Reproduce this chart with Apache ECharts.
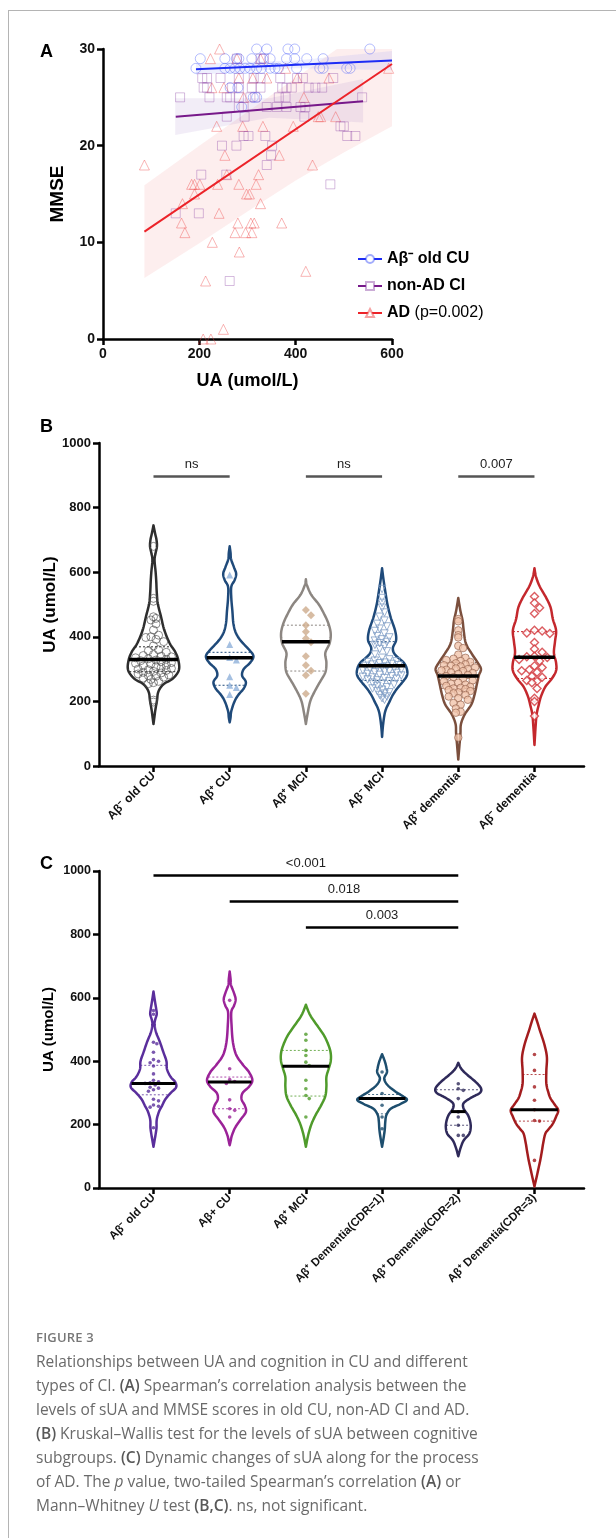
<!DOCTYPE html>
<html>
<head>
<meta charset="UTF-8">
<title>Figure 3</title>
<style>
  html, body { margin: 0; padding: 0; background: #fff; }
  #page { position: relative; width: 616px; height: 1538px; overflow: hidden; }
  #container { position: absolute; left: 0; top: 0; width: 616px; height: 1538px; }
  #edgeTop { position: absolute; left: 8px; top: 10px; width: 608px; height: 1px; background: #b4b4b4; }
  #edgeLeft { position: absolute; left: 8px; top: 10px; width: 1px; height: 1528px; background: #b4b4b4; }
  #caption { position: absolute; left: 36px; top: 1325px; width: 578px; font-family: "Open Sans", "Noto Sans", sans-serif; color: #6a6a6a; font-size: 15.5px; line-height: 24px; }
  #caption .fig { font-size: 13px; font-weight: 600; color: #777; letter-spacing: 0.2px; }
  #caption b { font-weight: 600; color: #585858; }
</style>
</head>
<body>
<div id="page">
  <div id="container"></div>
  <div id="edgeTop"></div>
  <div id="edgeLeft"></div>
  <div id="caption">
    <div class="fig">FIGURE 3</div>
    Relationships between UA and cognition in CU and different<br>
    types of CI. <b>(A)</b> Spearman’s correlation analysis between the<br>
    levels of sUA and MMSE scores in old CU, non-AD CI and AD.<br>
    <b>(B)</b> Kruskal–Wallis test for the levels of sUA between cognitive<br>
    subgroups. <b>(C)</b> Dynamic changes of sUA along for the process<br>
    of AD. The <i>p</i> value, two-tailed Spearman’s correlation <b>(A)</b> or<br>
    Mann–Whitney <i>U</i> test <b>(B,C)</b>. ns, not significant.
  </div>
</div>
<script src="https://cdn.jsdelivr.net/npm/echarts@6/dist/echarts.min.js"></script>
<script>
// ---------- panel A : UA vs MMSE ----------
var cuUA = [319, 340, 384, 398, 554, 202, 253, 277, 282, 309, 332, 347, 381, 398, 423, 457,
  193, 253, 264, 274, 284, 295, 305, 319, 329, 347, 357, 364, 402, 450, 457, 506, 513, 264, 280, 312, 319, 288];
var cuMMSE = [30, 30, 30, 30, 30, 29, 29, 29, 29, 29, 29, 29, 29, 29, 29, 29,
  28, 28, 28, 28, 28, 28, 28, 28, 28, 28, 28, 28, 28, 28, 28, 28, 28, 26, 26, 25, 25, 24];

var ciUA = [160, 151, 199, 204, 263, 472, 247, 277, 256, 292, 302, 337, 351, 349, 340, 257, 294, 418,
  282, 292, 340, 361, 381, 410, 420, 221, 257, 264, 282, 306, 316, 365, 379, 538,
  209, 216, 268, 282, 309, 327, 372, 381, 392, 427, 441, 455, 206, 216, 244, 282, 313, 327, 368, 403, 415, 478,
  278, 327, 334, 493, 500, 507, 524];
var ciMMSE = [25, 13, 13, 17, 6, 16, 20, 20, 17, 21, 21, 21, 20, 19, 18, 23, 23, 23,
  24, 24, 24, 24, 24, 24, 24, 25, 25, 25, 25, 25, 25, 25, 25, 25,
  26, 26, 26, 26, 26, 26, 26, 26, 26, 26, 26, 26, 27, 27, 27, 27, 27, 27, 27, 27, 27, 27,
  29, 29, 29, 22, 22, 21, 21];

var adUA = [86, 242, 223, 278, 327, 379, 593, 282, 311, 340, 403, 469, 226, 251, 292, 417, 236, 290, 332, 395,
  483, 452, 447, 253, 366, 435, 184, 190, 201, 238, 282, 318, 190, 298, 304, 165, 327, 257, 323, 241,
  163, 280, 307, 314, 371, 170, 274, 296, 309, 227, 283, 421, 213, 250, 208, 224];
var adMMSE = [18, 30, 29, 29, 29, 28, 28, 27, 27, 27, 27, 27, 26, 26, 25, 25, 22, 22, 22, 22,
  23, 23, 23, 19, 19, 18, 16, 16, 16, 16, 16, 16, 15, 15, 15, 14, 14, 17, 17, 13,
  12, 12, 12, 12, 12, 11, 11, 11, 11, 10, 9, 7, 6, 1, 0, 0];

// fitted lines (end points) and their shaded bands
var fitCU = [[193, 27.9], [600, 28.8]];
var fitCI = [[151, 23.0], [540, 24.6]];
var fitAD = [[86, 11.1], [600, 28.45]];
var bandCUx = [193, 400, 600], bandCUlo = [27.3, 28.0, 27.8], bandCUhi = [28.5, 28.8, 29.8];
var bandCIx = [150, 345, 540], bandCIlo = [21.1, 22.9, 22.4], bandCIhi = [24.9, 24.9, 26.9];
var bandADx = [86, 200, 300, 400, 500, 600];
var bandADlo = [6.3, 9.9, 13.2, 16.4, 19.3, 22.0];
var bandADhi = [15.9, 20.0, 23.5, 27.0, 30.5, 34.0];

// ---------- panel B : UA by subgroup ----------
var catB = ['Aβ⁻ old CU', 'Aβ⁺ CU', 'Aβ⁺ MCI', 'Aβ⁻ MCI', 'Aβ⁺ dementia', 'Aβ⁻ dementia'];
var ptsB1 = [680, 519, 510, 462, 457, 452, 440, 421, 405, 400, 398, 392, 385, 372, 360, 357, 352, 345, 342, 340,
  338, 335, 332, 330, 328, 326, 323, 320, 318, 316, 312, 310, 308, 305, 302, 300, 298, 296, 293, 290,
  288, 285, 282, 280, 278, 275, 272, 268, 262, 258, 255, 204, 198];
var ptsB2 = [591, 376, 336, 328, 276, 250, 243, 221];
var ptsB3 = [483, 467, 436, 416, 395, 383, 340, 312, 295, 281, 224];
var ptsB4 = [548, 520, 505, 490, 475, 462, 450, 440, 432, 425, 418, 410, 402, 398, 392, 388, 384, 380, 375, 370,
  362, 355, 345, 335, 330, 326, 324, 322, 320, 318, 316, 314, 312, 310, 308, 306, 304, 302, 300, 298,
  296, 294, 292, 290, 288, 285, 282, 280, 278, 276, 274, 272, 270, 268, 265, 262, 258, 255, 252, 248,
  244, 240, 236, 232, 228, 224, 220, 215, 210, 205];
var ptsB5 = [455, 448, 420, 405, 398, 372, 365, 345, 335, 332, 328, 325, 322, 318, 315, 312, 310, 308, 305, 302,
  300, 298, 296, 294, 290, 288, 285, 282, 278, 275, 270, 265, 262, 258, 255, 252, 248, 245, 242, 240,
  238, 235, 232, 228, 225, 220, 215, 210, 205, 195, 190, 178, 168, 165, 88];
var ptsB6 = [525, 505, 490, 472, 420, 418, 412, 410, 382, 362, 352, 340, 338, 336, 330, 325, 310, 305, 298, 295,
  290, 278, 275, 265, 262, 258, 240, 210, 200, 155];
var medianB = [330, 335, 385, 310, 279, 337];
var quartB = [[292, 369], [250, 352], [294, 436], [265, 385], [240, 320], [271, 416]];
// violin outlines: [UA, half width]
var violinB1 = [[745, 0], [720, 1.5], [700, 2.8], [680, 3.2], [660, 2], [638, 1], [600, 2], [570, 2.6], [540, 3], [503, 4],
  [462, 7], [421, 10], [380, 15], [354, 20], [328, 23], [297, 23.5], [271, 18], [255, 10], [240, 6], [224, 4],
  [204, 3.3], [173, 1.7], [150, 0.8], [130, 0]];
var violinB2 = [[680, 0], [660, 0.8], [640, 1.3], [615, 4], [595, 6], [575, 4.5], [555, 1.5], [520, 1.5], [480, 2.5], [440, 3.5],
  [410, 6], [385, 11], [360, 18], [340, 22], [320, 19], [300, 13], [280, 11.5], [260, 15], [240, 13], [220, 8],
  [200, 4.5], [170, 1.5], [150, 0.8], [135, 0]];
var violinB3 = [[578, 0], [560, 1], [530, 5], [500, 12], [470, 17], [440, 21], [410, 23], [380, 22], [350, 18], [320, 19],
  [290, 18], [260, 13], [230, 8], [200, 4], [160, 1.5], [130, 0]];
var violinB4 = [[612, 0], [580, 1.2], [540, 3], [500, 5], [460, 8], [420, 12], [390, 13], [365, 10], [345, 12], [320, 20],
  [300, 23], [280, 23], [260, 19], [240, 14], [220, 10], [200, 7], [170, 3], [130, 1], [90, 0]];
var violinB5 = [[520, 0], [480, 2], [450, 4], [420, 5], [380, 7], [350, 12], [320, 18], [300, 21], [280, 19], [250, 17],
  [220, 15], [190, 12], [160, 6], [130, 2.5], [100, 2], [60, 1], [20, 0]];
var violinB6 = [[612, 0], [585, 1.5], [555, 5], [520, 11], [490, 15], [455, 17], [420, 20], [385, 19], [350, 18], [320, 20],
  [295, 20], [270, 16], [245, 10], [215, 6], [190, 4], [160, 2], [120, 1], [65, 0]];
var bracketsB = [[1, 2, 896, 'ns'], [3, 4, 896, 'ns'], [5, 6, 896, '0.007']];

// ---------- panel C : UA along the AD process ----------
var catC = ['Aβ⁻ old CU', 'Aβ+ CU', 'Aβ⁺ MCI', 'Aβ⁺ Dementia(CDR=1)', 'Aβ⁺ Dementia(CDR=2)', 'Aβ⁺ Dementia(CDR=3)'];
var ptsC1 = [560, 548, 460, 455, 428, 405, 400, 395, 385, 360, 340, 335, 332, 330, 325, 318, 315, 310, 305, 280,
  275, 262, 258, 255, 190];
var ptsC2 = [592, 376, 342, 336, 330, 278, 250, 245, 224];
var ptsC3 = [485, 466, 434, 418, 397, 386, 340, 313, 292, 282, 224];
var ptsC4 = [366, 298, 282, 261, 224, 187];
var ptsC5 = [329, 313, 308, 282, 240, 224, 198, 166, 166];
var ptsC6 = [421, 371, 319, 277, 247, 213, 211, 87];
var medianC = [330, 334, 384, 282, 241, 247];
var quartC = [[294, 387], [250, 350], [290, 434], [234, 295], [198, 310], [211, 358]];
var violinC1 = [[620, 0], [590, 1.3], [565, 2.5], [548, 3], [530, 1.5], [515, 1], [490, 2.5], [460, 6], [430, 9], [400, 12],
  [375, 12.5], [350, 16], [335, 20], [318, 21], [300, 16], [280, 11], [260, 8], [240, 5], [215, 3], [190, 2.8],
  [170, 2], [150, 1], [130, 0]];
var violinC2 = [[683, 0], [660, 0.8], [640, 1.3], [615, 4], [595, 5.5], [575, 4], [555, 1.5], [510, 1.8], [460, 3], [420, 6],
  [390, 12], [365, 18], [340, 21], [320, 18], [300, 12], [280, 11], [260, 14], [240, 15], [215, 10], [190, 5],
  [165, 2], [150, 1], [135, 0]];
var violinC3 = [[578, 0], [545, 4], [510, 11], [480, 17], [450, 21], [425, 23], [400, 23], [375, 21], [350, 19], [320, 19],
  [290, 18], [260, 14], [230, 9], [200, 5], [165, 2], [130, 0]];
var violinC4 = [[422, 0], [400, 2.5], [380, 4], [365, 4.5], [345, 2], [325, 5], [305, 12], [290, 19], [278, 23], [265, 17],
  [250, 8], [230, 4], [210, 3], [185, 2.5], [160, 1.5], [130, 0]];
var violinC5 = [[395, 0], [375, 3], [355, 9], [335, 16], [315, 21], [300, 20], [285, 12], [268, 5], [250, 5], [230, 9],
  [210, 11], [190, 11.5], [170, 10], [150, 5], [125, 2], [100, 0]];
var violinC6 = [[550, 0], [525, 2.5], [497, 5], [455, 9], [413, 11.5], [370, 11], [329, 11], [300, 13], [282, 15], [262, 19],
  [245, 22], [225, 20], [203, 17], [185, 13], [171, 10], [140, 8], [119, 7], [90, 5.5], [66, 4], [35, 2], [5, 0]];
var bracketsC = [[1, 5, 986, '<0.001'], [2, 5, 904, '0.018'], [3, 5, 822, '0.003']];

// ---------- styling ----------
var FONT = 'Liberation Sans';
var colB = ['#2e2e2e', '#1f4a7a', '#8c8681', '#1f4a7a', '#7b4f3d', '#c4282d'];
var colC = ['#5a2e9c', '#9b2298', '#4f9b2b', '#1d4e6e', '#2f2a5a', '#a31c1e'];
var PX_PER_CAT = 76.2;   // category spacing in px in both violin panels
var W_SCALE = 1.08;      // violin half width, px per unit of the outline arrays

var violinsB = [violinB1, violinB2, violinB3, violinB4, violinB5, violinB6];
var violinsC = [violinC1, violinC2, violinC3, violinC4, violinC5, violinC6];
var ptsB = [ptsB1, ptsB2, ptsB3, ptsB4, ptsB5, ptsB6];
var ptsC = [ptsC1, ptsC2, ptsC3, ptsC4, ptsC5, ptsC6];

function widthAt(prof, v) {
  for (var i = 0; i < prof.length - 1; i++) {
    var a = prof[i], b = prof[i + 1];
    if (v <= a[0] && v >= b[0]) {
      var t = (a[0] - v) / (a[0] - b[0]);
      return (a[1] + (b[1] - a[1]) * t) * W_SCALE;
    }
  }
  return 0;
}

// catmull-rom through the pixel outline points (one side of the violin)
function smoothSide(pts) {
  var out = [];
  for (var i = 0; i < pts.length - 1; i++) {
    var p0 = pts[Math.max(0, i - 1)], p1 = pts[i], p2 = pts[i + 1], p3 = pts[Math.min(pts.length - 1, i + 2)];
    for (var s = 0; s < 8; s++) {
      var t = s / 8, t2 = t * t, t3 = t2 * t;
      var f = function (a, b, c, d) {
        return 0.5 * (2 * b + (-a + c) * t + (2 * a - 5 * b + 4 * c - d) * t2 + (-a + 3 * b - 3 * c + d) * t3);
      };
      out.push([f(p0[0], p1[0], p2[0], p3[0]), f(p0[1], p1[1], p2[1], p3[1])]);
    }
  }
  out.push(pts[pts.length - 1]);
  return out;
}

// beeswarm kept inside the violin: horizontal offsets in px
function swarm(vals, prof, yScale, size, marker) {
  var placed = [], offs = [];
  vals.forEach(function (v) {
    var y = v * yScale;
    var maxOff = Math.max(0, widthAt(prof, v) - marker / 2 - 1);
    var best = 0, bestD = -1;
    for (var k = 0; k < 80; k++) {
      var o = (k % 2 ? 1 : -1) * Math.ceil(k / 2) * size * 0.4;
      if (Math.abs(o) > maxOff) { if (k > 1) break; else continue; }
      var dmin = Infinity;
      placed.forEach(function (p) {
        var dx = p[0] - o, dy = p[1] - y;
        dmin = Math.min(dmin, Math.sqrt(dx * dx + dy * dy));
      });
      if (dmin >= size) { best = o; bestD = dmin; break; }
      if (dmin > bestD) { bestD = dmin; best = o; }
    }
    placed.push([best, y]);
    offs.push(best);
  });
  return offs;
}

function swarmData(vals, center, prof, yScale, size, marker) {
  var offs = swarm(vals, prof, yScale, size, marker);
  return vals.map(function (v, i) { return [center + offs[i] / PX_PER_CAT, v]; });
}

function violinSeries(profiles, colors, axis) {
  return {
    type: 'custom', xAxisIndex: axis, yAxisIndex: axis, z: 2, silent: true,
    data: profiles.map(function (p, i) { return [i + 1]; }),
    renderItem: function (params, api) {
      var idx = api.value(0), prof = profiles[idx - 1];
      var c0 = api.coord([idx, prof[0][0]])[0];
      var side = prof.map(function (d) {
        return [d[1] * W_SCALE, api.coord([idx, d[0]])[1]];
      });
      var sm = smoothSide(side).map(function (p) { return [Math.max(0, p[0]), p[1]]; });
      var pts = sm.map(function (p) { return [c0 + p[0], p[1]]; });
      for (var i = sm.length - 2; i > 0; i--) pts.push([c0 - sm[i][0], sm[i][1]]);
      return {
        type: 'polygon',
        shape: { points: pts },
        style: { fill: 'rgba(255,255,255,0)', stroke: colors[idx - 1], lineWidth: 2.5, lineJoin: 'round' }
      };
    }
  };
}

function levelSeries(profiles, levels, axis, style, z) {
  return {
    type: 'custom', xAxisIndex: axis, yAxisIndex: axis, z: z, silent: true,
    data: levels.map(function (v, i) { return [i + 1, v]; }),
    renderItem: function (params, api) {
      var idx = api.value(0), v = api.value(1);
      var w = widthAt(profiles[idx - 1], v);
      var c = api.coord([idx, v]);
      return {
        type: 'line',
        shape: { x1: c[0] - w, y1: c[1], x2: c[0] + w, y2: c[1] },
        style: typeof style === 'function' ? style(idx) : style
      };
    }
  };
}

function bracketSeries(list, axis, color) {
  return {
    type: 'custom', xAxisIndex: axis, yAxisIndex: axis, z: 5, silent: true,
    data: list.map(function (b) { return [b[0], b[1], b[2]]; }),
    renderItem: function (params, api) {
      var b = list[params.dataIndex];
      var p1 = api.coord([api.value(0), api.value(2)]);
      var p2 = api.coord([api.value(1), api.value(2)]);
      return {
        type: 'group',
        children: [
          { type: 'line', shape: { x1: p1[0], y1: p1[1], x2: p2[0], y2: p2[1] },
            style: { stroke: color, lineWidth: 2.5 } },
          { type: 'text', x: (p1[0] + p2[0]) / 2, y: p1[1] - 6,
            style: { text: b[3], fontFamily: FONT, fontSize: 13, fill: '#222', align: 'center', verticalAlign: 'bottom' } }
        ]
      };
    }
  };
}

function bandSeries(xs, lo, hi, fill) {
  return {
    type: 'custom', xAxisIndex: 0, yAxisIndex: 0, z: 1, clip: true, silent: true,
    data: [[xs[0], lo[0]]],
    renderItem: function (params, api) {
      var pts = [];
      xs.forEach(function (x, i) { pts.push(api.coord([x, hi[i]])); });
      for (var i = xs.length - 1; i >= 0; i--) pts.push(api.coord([xs[i], lo[i]]));
      return { type: 'polygon', shape: { points: pts }, style: { fill: fill } };
    }
  };
}

function pairs(xs, ys) { return xs.map(function (x, i) { return [x, ys[i]]; }); }

var tickLabel = { fontFamily: FONT, fontWeight: 'bold', color: '#111', formatter: function (v) { return String(v); } };
var blackLine = { show: true, lineStyle: { color: '#000', width: 2.5 } };
var blackTick = { show: true, length: 6, lineStyle: { color: '#000', width: 2.5 } };

function catXAxis(idx, cats, fontSize) {
  return {
    gridIndex: idx, type: 'value', min: 0.285, max: 6.65,
    axisLine: blackLine, splitLine: { show: false },
    axisTick: { show: true, length: 6, lineStyle: { color: '#000', width: 2.5 }, customValues: [1, 2, 3, 4, 5, 6] },
    axisLabel: {
      fontFamily: FONT, fontWeight: 'bold', color: '#111',
      fontSize: fontSize, rotate: 45, margin: 8, customValues: [1, 2, 3, 4, 5, 6],
      formatter: function (v) { return cats[Math.round(v) - 1]; }
    }
  };
}

function uaYAxis(idx, fontSize, nameSize, nameGap) {
  return {
    gridIndex: idx, type: 'value', min: 0, max: 1000, interval: 200,
    name: 'UA (umol/L)', nameLocation: 'middle', nameGap: nameGap, nameMoveOverlap: false,
    nameTextStyle: { fontFamily: FONT, fontWeight: 'bold', fontSize: nameSize, color: '#000' },
    axisLine: blackLine, axisTick: blackTick, splitLine: { show: false },
    axisLabel: Object.assign({}, tickLabel, { fontSize: fontSize, margin: 8 })
  };
}

var chart = echarts.init(document.getElementById('container'));

var symB = [
  { symbol: 'circle', symbolSize: 8, itemStyle: { color: 'rgba(255,255,255,0)', borderColor: '#4a4a4a', borderWidth: 0.8 } },
  { symbol: 'triangle', symbolSize: 7, itemStyle: { color: '#8fb0da' } },
  { symbol: 'diamond', symbolSize: 8, itemStyle: { color: '#cdab8c' } },
  { symbol: 'triangle', symbolRotate: 180, symbolSize: 7.5, itemStyle: { color: 'rgba(255,255,255,0)', borderColor: '#7f9dc6', borderWidth: 1 } },
  { symbol: 'circle', symbolSize: 7.5, itemStyle: { color: '#f1c4ab', borderColor: '#8d5b47', borderWidth: 0.8 } },
  { symbol: 'diamond', symbolSize: 8, itemStyle: { color: '#fff', borderColor: '#d2353a', borderWidth: 1.4 } }
];

var series = [
  bandSeries(bandADx, bandADlo, bandADhi, 'rgba(244,150,150,0.16)'),
  bandSeries(bandCIx, bandCIlo, bandCIhi, 'rgba(160,130,200,0.14)'),
  bandSeries(bandCUx, bandCUlo, bandCUhi, 'rgba(120,130,250,0.13)'),
  { type: 'scatter', xAxisIndex: 0, yAxisIndex: 0, z: 2, symbol: 'triangle', symbolSize: 10, silent: true,
    itemStyle: { color: 'rgba(0,0,0,0)', borderColor: 'rgba(238,70,70,0.5)', borderWidth: 1 },
    data: pairs(adUA, adMMSE) },
  { type: 'scatter', xAxisIndex: 0, yAxisIndex: 0, z: 2, symbol: 'rect', symbolSize: 9, silent: true,
    itemStyle: { color: 'rgba(0,0,0,0)', borderColor: 'rgba(140,70,165,0.45)', borderWidth: 1 },
    data: pairs(ciUA, ciMMSE) },
  { type: 'scatter', xAxisIndex: 0, yAxisIndex: 0, z: 2, symbol: 'circle', symbolSize: 10, silent: true,
    itemStyle: { color: 'rgba(0,0,0,0)', borderColor: 'rgba(70,90,250,0.5)', borderWidth: 1 },
    data: pairs(cuUA, cuMMSE) },
  { name: 'Aβ⁻ old CU', type: 'line', xAxisIndex: 0, yAxisIndex: 0, z: 3, showSymbol: false, symbol: 'circle', symbolSize: 9,
    lineStyle: { color: '#1d2cf5', width: 2 }, itemStyle: { color: '#fff', borderColor: 'rgba(70,90,250,0.5)', borderWidth: 1 },
    data: fitCU },
  { name: 'non-AD CI', type: 'line', xAxisIndex: 0, yAxisIndex: 0, z: 3, showSymbol: false, symbol: 'rect', symbolSize: 9,
    lineStyle: { color: '#77198a', width: 2 }, itemStyle: { color: '#fff', borderColor: 'rgba(140,70,165,0.45)', borderWidth: 1 },
    data: fitCI },
  { name: 'AD (p=0.002)', type: 'line', xAxisIndex: 0, yAxisIndex: 0, z: 3, showSymbol: false, symbol: 'triangle', symbolSize: 9,
    lineStyle: { color: '#ec2329', width: 2 }, itemStyle: { color: '#fff', borderColor: 'rgba(238,70,70,0.5)', borderWidth: 1 },
    data: fitAD },

  violinSeries(violinsB, colB, 1),
  levelSeries(violinsB, quartB.map(function (q) { return q[0]; }), 1, function (i) { return { stroke: colB[i - 1], lineWidth: 1, lineDash: [2, 2] }; }, 2),
  levelSeries(violinsB, quartB.map(function (q) { return q[1]; }), 1, function (i) { return { stroke: colB[i - 1], lineWidth: 1, lineDash: [2, 2] }; }, 2),
  levelSeries(violinsB, medianB, 1, { stroke: '#000', lineWidth: 3.5 }, 4),
  bracketSeries(bracketsB, 1, '#555'),

  violinSeries(violinsC, colC, 2),
  levelSeries(violinsC, quartC.map(function (q) { return q[0]; }), 2, function (i) { return { stroke: colC[i - 1], lineWidth: 1, lineDash: [2, 2], opacity: 0.8 }; }, 2),
  levelSeries(violinsC, quartC.map(function (q) { return q[1]; }), 2, function (i) { return { stroke: colC[i - 1], lineWidth: 1, lineDash: [2, 2], opacity: 0.8 }; }, 2),
  levelSeries(violinsC, medianC, 2, { stroke: '#000', lineWidth: 3 }, 4),
  bracketSeries(bracketsC, 2, '#000')
];
ptsB.forEach(function (vals, i) {
  var s = symB[i];
  series.push(Object.assign({ type: 'scatter', xAxisIndex: 1, yAxisIndex: 1, z: 3, silent: true,
    data: swarmData(vals, i + 1, violinsB[i], 0.323, s.symbolSize * 0.8, s.symbolSize) }, s));
});
ptsC.forEach(function (vals, i) {
  series.push({ type: 'scatter', xAxisIndex: 2, yAxisIndex: 2, z: 3, symbol: 'circle', symbolSize: 3.6, silent: true,
    itemStyle: { color: colC[i] }, data: swarmData(vals, i + 1, violinsC[i], 0.317, 4.2, 3.6) });
});

chart.setOption({
  animation: false,
  textStyle: { fontFamily: FONT },
  grid: [
    { left: 103, top: 49, width: 289, height: 290, outerBoundsMode: 'none' },
    { left: 99, top: 443, width: 485, height: 323, outerBoundsMode: 'none' },
    { left: 99, top: 871, width: 485, height: 317, outerBoundsMode: 'none' }
  ],
  xAxis: [
    { gridIndex: 0, type: 'value', min: 0, max: 600, interval: 200,
      name: 'UA (umol/L)', nameLocation: 'middle', nameGap: 33, nameMoveOverlap: false,
      nameTextStyle: { fontFamily: FONT, fontWeight: 'bold', fontSize: 18, color: '#000' },
      axisLine: blackLine, axisTick: blackTick, splitLine: { show: false },
      axisLabel: Object.assign({}, tickLabel, { fontSize: 14, margin: 8 }) },
    catXAxis(1, catB, 12),
    catXAxis(2, catC, 11.5)
  ],
  yAxis: [
    { gridIndex: 0, type: 'value', min: 0, max: 30, interval: 10,
      name: 'MMSE', nameLocation: 'middle', nameGap: 36, nameMoveOverlap: false,
      nameTextStyle: { fontFamily: FONT, fontWeight: 'bold', fontSize: 19, color: '#000' },
      axisLine: blackLine, axisTick: blackTick, splitLine: { show: false },
      axisLabel: Object.assign({}, tickLabel, { fontSize: 14, margin: 8 }) },
    uaYAxis(1, 13, 17, 40),
    uaYAxis(2, 12.5, 15, 43)
  ],
  legend: {
    data: ['Aβ⁻ old CU', 'non-AD CI', 'AD (p=0.002)'],
    orient: 'vertical', left: 352, top: 246, itemWidth: 24, itemHeight: 10, itemGap: 11,
    selectedMode: false,
    textStyle: { fontFamily: FONT, fontWeight: 'bold', fontSize: 16, color: '#000',
      rich: { n: { fontFamily: FONT, fontWeight: 'normal', fontSize: 16, color: '#000' } } },
    formatter: function (name) {
      return name === 'AD (p=0.002)' ? 'AD {n|(p=0.002)}' : name;
    }
  },
  graphic: [
    { type: 'text', left: 40, top: 43, style: { text: 'A', fontFamily: FONT, fontWeight: 'bold', fontSize: 18, fill: '#000' } },
    { type: 'text', left: 40, top: 418, style: { text: 'B', fontFamily: FONT, fontWeight: 'bold', fontSize: 18, fill: '#000' } },
    { type: 'text', left: 40, top: 855, style: { text: 'C', fontFamily: FONT, fontWeight: 'bold', fontSize: 18, fill: '#000' } }
  ],
  series: series
});
</script>
</body>
</html>
